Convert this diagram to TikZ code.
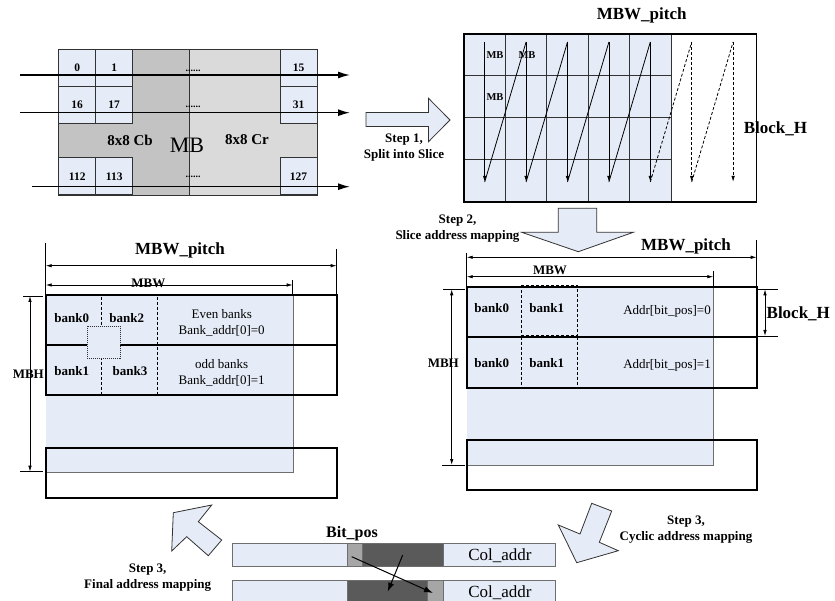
\documentclass[tikz,border=0pt]{standalone}
\usepackage{fontspec}
\setmainfont{Liberation Serif}
\usetikzlibrary{arrows.meta}
\definecolor{lb}{RGB}{230,236,247}
\definecolor{gdark}{RGB}{195,195,195}
\definecolor{glight}{RGB}{218,218,218}
\definecolor{bdark}{RGB}{90,90,90}
\definecolor{blight}{RGB}{166,166,166}
\definecolor{edge}{RGB}{50,50,50}
\definecolor{soft}{RGB}{110,110,110}
\tikzset{
  cell/.style={draw=edge, fill=lb, line width=0.9pt, minimum width=37pt, minimum height=37pt, inner sep=0pt, font=\fontsize{11.5}{13}\selectfont\bfseries},
  harr/.style={line width=1.4pt, -{Latex[length=12pt,width=7pt]}},
  garr/.style={line width=0.8pt, -{Latex[length=6pt,width=3.5pt]}},
  dimarr/.style={line width=0.8pt, {Latex[length=6pt,width=3.5pt]}-{Latex[length=6pt,width=3.5pt]}},
  thinl/.style={line width=0.8pt},
  gridl/.style={line width=1pt, draw=edge},
  slicebox/.style={line width=2pt, draw=black},
  blockarrow/.style={fill=lb, draw=edge, line width=0.8pt, line join=miter},
  dashln/.style={line width=0.8pt, dash pattern=on 3pt off 2pt},
  tb10/.style={font=\fontsize{10.5}{12}\selectfont\bfseries, inner sep=0pt},
  tb13/.style={font=\fontsize{13}{15}\selectfont\bfseries, inner sep=0pt},
  tb15/.style={font=\fontsize{15}{17}\selectfont\bfseries, inner sep=0pt},
  tb17/.style={font=\fontsize{17}{19}\selectfont\bfseries, inner sep=0pt},
  tr13/.style={font=\fontsize{13}{15}\selectfont, inner sep=0pt},
  tr17/.style={font=\fontsize{17}{19}\selectfont, inner sep=0pt},
  steptxt/.style={font=\fontsize{13}{16}\selectfont\bfseries, inner sep=0pt, align=center},
  dotstxt/.style={font=\fontsize{10}{12}\selectfont\bfseries, inner sep=0pt},
  bitseg/.style={draw=soft, line width=0.8pt},
}
\begin{document}
\begin{tikzpicture}[x=1pt,y=-1pt]
\useasboundingbox (0,0) rectangle (835,601);
\clip (0,0) rectangle (835,601);

% ================= top-left MB =================
\fill[gdark] (58.7,49.3) rectangle (189.3,195);
\fill[glight] (189.3,49.3) rectangle (317.3,195);
\draw[edge,line width=0.9pt] (58.7,49.3) rectangle (317.3,195);
\draw[edge,line width=0.9pt] (189.3,49.3) -- (189.3,195);
\node[cell] (c0) at (77.2,67.8) {0};
\node[cell] (c1) at (114.2,67.8) {1};
\node[cell] (c15) at (298.5,67.8) {15};
\node[cell] (c16) at (77.2,104.8) {16};
\node[cell] (c17) at (114.2,104.8) {17};
\node[cell] (c31) at (298.5,104.8) {31};
\node[cell] (c112) at (77.2,176.3) {112};
\node[cell] (c113) at (114.2,176.3) {113};
\node[cell] (c127) at (298.5,176.3) {127};
\node[tb15] (cb) at (130,140) {8x8 Cb};
\node[font=\fontsize{22}{24}\selectfont, inner sep=0pt] (mbc) at (187,145) {MB};
\node[tb15] (cr) at (247,140) {8x8 Cr};
\node[dotstxt] (d1) at (193,71) {......};
\node[dotstxt] (d2) at (193,107) {......};
\node[dotstxt] (d3) at (193,177) {......};
\coordinate (h1a) at (20,75);    \coordinate (h1b) at (350,75);
\coordinate (h2a) at (20,112.7); \coordinate (h2b) at (350,112.7);
\coordinate (h3a) at (32,186.7); \coordinate (h3b) at (350,186.7);
\draw[harr] (h1a) -- (h1b);
\draw[harr] (h2a) -- (h2b);
\draw[harr] (h3a) -- (h3b);

% Step 1 arrow
\draw[blockarrow] (366,112.5) -- (428.5,112.5) -- (428.5,98.3) -- (450,120) -- (428.5,141.7) -- (428.5,126.5) -- (366,126.5) -- cycle;
\node[steptxt] (s1) at (404,148) {Step 1,\\Split into Slice};

% ================= top-right grid =================
\fill[lb] (464,34) rectangle (671,202);
\foreach \x in {505.4,546.8,588.2,629.6,671} \draw[gridl] (\x,34) -- (\x,202);
\foreach \y in {76,118,160} \draw[gridl] (464,\y) -- (671,\y);
\draw[line width=1.1pt] (464,34) rectangle (756.7,202);
\draw[line width=2.2pt] (464,202) -- (464,34) -- (756.7,34);
\node[tb10] (mb1) at (495,55) {MB};
\node[tb10] (mb2) at (527,55) {MB};
\node[tb10] (mb3) at (495,96.7) {MB};
\foreach \k in {0,...,6} {
  \coordinate (t\k) at ({484.7+41.4*\k},42);
  \coordinate (b\k) at ({484.7+41.4*\k},182);
}
\draw[garr] (t0) -- (b0); \draw[thinl] (b0) -- (t1);
\draw[garr] (t1) -- (b1); \draw[thinl] (b1) -- (t2);
\draw[garr] (t2) -- (b2); \draw[thinl] (b2) -- (t3);
\draw[garr] (t3) -- (b3); \draw[thinl] (b3) -- (t4);
\draw[garr] (t4) -- (b4); \draw[thinl,dashln] (b4) -- (t5);
\draw[garr,dashln] (t5) -- (b5); \draw[thinl,dashln] (b5) -- (t6);
\draw[garr,dashln] (t6) -- (b6);
\node[tb17] (pitch1) at (641.7,15) {MBW\_pitch};
\node[tb17] (blockh1) at (775.5,128.3) {Block\_H};

% Step 2 arrow
\draw[blockarrow] (558.3,208.3) -- (596.7,208.3) -- (596.7,232.3) -- (633.3,232.3) -- (578.3,251.7) -- (521.7,232.3) -- (558.3,232.3) -- cycle;
\node[steptxt] (s2) at (457.5,229) {Step 2,\\Slice address mapping};

% ================= bottom-right =================
\fill[lb] (466.7,286.7) rectangle (713.3,465);
\draw[soft,line width=0.9pt] (713.3,286.7) -- (713.3,465) -- (466.7,465);
\draw[dashln] (521.7,285) rectangle (577.3,335.5);
\draw[dashln] (521.7,336.7) -- (521.7,387.7);
\draw[dashln] (577.3,336.7) -- (577.3,387.7);
\draw[slicebox] (466.7,286.7) rectangle (757.3,336.7);
\draw[slicebox] (466.7,336.7) rectangle (757.3,387.7);
\draw[slicebox] (466.7,440) rectangle (757.3,490);
\node[tb13] (r00) at (491.7,308.3) {bank0};
\node[tb13] (r01) at (546.7,308.3) {bank1};
\node[tr13] (ra0) at (667,311.7) {Addr[bit\_pos]=0};
\node[tb13] (r10) at (491.7,362.7) {bank0};
\node[tb13] (r11) at (546.7,362.7) {bank1};
\node[tr13] (ra1) at (667,365) {Addr[bit\_pos]=1};
% dimensions
\draw[thinl] (466.7,253) -- (466.7,286.7);
\draw[thinl] (756.7,240) -- (756.7,286.7);
\draw[thinl] (713.3,271) -- (713.3,286.7);
\coordinate (rpa) at (466.7,257.3); \coordinate (rpb) at (756.7,257.3);
\draw[dimarr] (rpa) -- (rpb);
\coordinate (rwa) at (466.7,276.7); \coordinate (rwb) at (713.3,276.7);
\draw[dimarr] (rwa) -- (rwb);
\node[tb17] (pitch2) at (686,246.5) {MBW\_pitch};
\node[tb13] (mbw2) at (550,270) {MBW};
\draw[thinl] (443,289.3) -- (465,289.3);
\draw[thinl] (441.7,465) -- (465,465);
\coordinate (rha) at (451.7,289.3); \coordinate (rhb) at (451.7,465);
\draw[dimarr] (rha) -- (rhb);
\node[tb13] (mbh2) at (443.3,363.3) {MBH};
\draw[thinl] (758,289.3) -- (778,289.3);
\draw[thinl] (758,336) -- (778,336);
\coordinate (rba) at (765,289.3); \coordinate (rbb) at (765,336);
\draw[dimarr] (rba) -- (rbb);
\node[tb17] (blockh2) at (798.3,313.3) {Block\_H};

% ================= bottom-left =================
\fill[lb] (45.7,295) rectangle (293.3,472.3);
\draw[soft,line width=0.9pt] (293.3,295) -- (293.3,472.3) -- (45.7,472.3);
\draw[dashln] (101.7,296.7) -- (101.7,395);
\draw[dashln] (157.3,296.7) -- (157.3,395);
\draw[slicebox] (45.7,295) rectangle (337.3,345);
\draw[slicebox] (45.7,345) rectangle (337.3,395);
\draw[slicebox] (45.7,447.7) rectangle (337.3,498.3);
\draw[fill=lb, draw=edge, line width=0.8pt, dash pattern=on 1pt off 1pt] (87.3,326) rectangle (120,358.3);
\node[tb13] (l00) at (71.7,318.3) {bank0};
\node[tb13] (l02) at (126.7,318.3) {bank2};
\node[tr13] (le1) at (221.7,314.3) {Even banks};
\node[tr13] (le2) at (221.7,331) {Bank\_addr[0]=0};
\node[tb13] (l11) at (71.7,370.7) {bank1};
\node[tb13] (l13) at (130,370.7) {bank3};
\node[tr13] (lo1) at (221.7,364) {odd banks};
\node[tr13] (lo2) at (221.7,381) {Bank\_addr[0]=1};
\draw[thinl] (45.7,243) -- (45.7,295);
\draw[thinl] (336.7,249.3) -- (336.7,295);
\draw[thinl] (292.7,280) -- (292.7,295);
\coordinate (lpa) at (45.7,265.7); \coordinate (lpb) at (336.7,265.7);
\draw[dimarr] (lpa) -- (lpb);
\node[tb17] (pitch3) at (180,250) {MBW\_pitch};
\node[tb13] (mbw3) at (148.3,283) {MBW};
\coordinate (lwa) at (45.7,285); \coordinate (lwb) at (292.7,285);
\draw[dimarr] (lwa) -- (lwb);
\draw[thinl] (23.3,296) -- (43.3,296);
\draw[thinl] (20,471.7) -- (43.3,471.7);
\coordinate (lha) at (30,296); \coordinate (lhb) at (30,471.7);
\draw[dimarr] (lha) -- (lhb);
\node[tb13] (mbh3) at (28.3,374.3) {MBH};

% Step 3 arrows
\draw[blockarrow] (173.3,512.7) -- (211.7,505) -- (198.3,521.7) -- (221.7,540) -- (208.3,555.7) -- (186.7,536.7) -- (171.7,551) -- cycle;
\node[steptxt] (s3l) at (147.7,578) {Step 3,\\Final address mapping};
\draw[blockarrow] (591.7,503.3) -- (611.7,511) -- (599.3,542.3) -- (618.3,550.7) -- (576.7,562.7) -- (558.3,525) -- (580,534) -- cycle;
\node[steptxt] (s3r) at (686,529.5) {Step 3,\\Cyclic address mapping};

% ================= bit rows =================
\draw[bitseg, fill=lb] (232.3,543.3) rectangle (347.7,566.7);
\draw[bitseg, fill=blight] (347.7,543.3) rectangle (362.7,566.7);
\draw[bitseg, fill=bdark] (362.7,543.3) rectangle (443.3,566.7);
\draw[bitseg, fill=lb] (443.3,543.3) rectangle (555,566.7);
\draw[bitseg, fill=lb] (232.3,580) rectangle (347.7,606);
\draw[bitseg, fill=bdark] (347.7,580) rectangle (427.3,606);
\draw[bitseg, fill=blight] (427.3,580) rectangle (443.3,606);
\draw[bitseg, fill=lb] (443.3,580) rectangle (555,606);
\node[font=\fontsize{16}{18}\selectfont\bfseries, inner sep=0pt] (bitpos) at (352,533.3) {Bit\_pos};
\node[tr17] (col1) at (500,556) {Col\_addr};
\node[tr17] (col2) at (500,592.5) {Col\_addr};
\coordinate (ba1) at (351.7,556.7); \coordinate (bb1) at (433,593);
\coordinate (ba2) at (402.7,555);   \coordinate (bb2) at (387.7,591.7);
\draw[line width=1pt, -{Latex[length=9pt,width=6pt]}] (ba1) -- (bb1);
\draw[line width=1pt, -{Latex[length=9pt,width=6pt]}] (ba2) -- (bb2);
\end{tikzpicture}
\end{document}
